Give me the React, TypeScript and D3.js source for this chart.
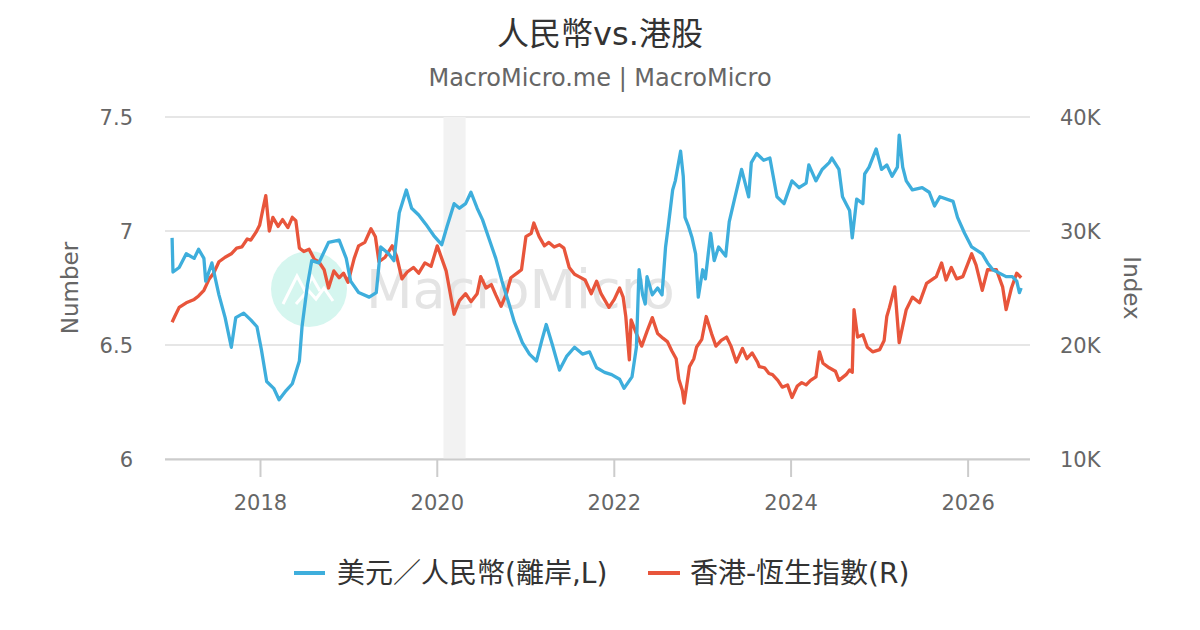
import React from 'react';
import * as d3 from 'd3';

// USD/CNH (offshore), left axis — dates as decimal years
const cnhYears = [
  2017.00, 2017.01, 2017.08, 2017.16, 2017.25, 2017.30, 2017.36, 2017.38, 2017.45, 2017.53,
  2017.60, 2017.67, 2017.72, 2017.81, 2017.89, 2017.96, 2018.01, 2018.07, 2018.15, 2018.21,
  2018.29, 2018.36, 2018.44, 2018.47, 2018.53, 2018.58, 2018.66, 2018.77, 2018.89, 2018.97,
  2019.02, 2019.11, 2019.23, 2019.31, 2019.36, 2019.45, 2019.51, 2019.57, 2019.65, 2019.71,
  2019.79, 2019.87, 2019.96, 2020.05, 2020.11, 2020.19, 2020.25, 2020.32, 2020.38, 2020.45,
  2020.51, 2020.58, 2020.66, 2020.73, 2020.81, 2020.87, 2020.96, 2021.04, 2021.12, 2021.18,
  2021.23, 2021.30, 2021.38, 2021.46, 2021.55, 2021.64, 2021.72, 2021.80, 2021.89, 2021.97,
  2022.06, 2022.11, 2022.20, 2022.25, 2022.28, 2022.32, 2022.35, 2022.37, 2022.43, 2022.49,
  2022.54, 2022.58, 2022.61, 2022.66, 2022.69, 2022.75, 2022.78, 2022.80, 2022.84, 2022.88,
  2022.92, 2022.95, 2023.00, 2023.03, 2023.09, 2023.13, 2023.18, 2023.26, 2023.30, 2023.36,
  2023.44, 2023.52, 2023.55, 2023.61, 2023.69, 2023.76, 2023.84, 2023.92, 2024.01, 2024.09,
  2024.17, 2024.20, 2024.28, 2024.35, 2024.43, 2024.46, 2024.54, 2024.58, 2024.62, 2024.66,
  2024.69, 2024.74, 2024.81, 2024.83, 2024.88, 2024.96, 2025.02, 2025.08, 2025.14, 2025.20,
  2025.22, 2025.26, 2025.30, 2025.37, 2025.48, 2025.56, 2025.62, 2025.68, 2025.83, 2025.88,
  2025.96, 2026.04, 2026.16, 2026.22, 2026.28, 2026.43, 2026.50, 2026.55, 2026.58, 2026.60,
];
const cnhValues = [
  6.97, 6.82, 6.84, 6.90, 6.88, 6.92, 6.88, 6.78, 6.86, 6.72,
  6.62, 6.49, 6.62, 6.64, 6.61, 6.58, 6.48, 6.34, 6.31, 6.26,
  6.30, 6.33, 6.43, 6.58, 6.76, 6.87, 6.86, 6.95, 6.96, 6.88,
  6.78, 6.73, 6.71, 6.73, 6.93, 6.90, 6.87, 7.08, 7.18, 7.10,
  7.07, 7.03, 6.98, 6.94, 7.02, 7.12, 7.10, 7.12, 7.17, 7.10,
  7.05, 6.97, 6.88, 6.78, 6.68, 6.60, 6.51, 6.46, 6.43, 6.52,
  6.59, 6.50, 6.39, 6.45, 6.49, 6.46, 6.47, 6.40, 6.38, 6.37,
  6.35, 6.31, 6.36, 6.49, 6.83, 6.72, 6.68, 6.80, 6.72, 6.75,
  6.72, 6.93, 7.02, 7.18, 7.22, 7.35, 7.24, 7.06, 7.02, 6.97,
  6.90, 6.71, 6.83, 6.79, 6.99, 6.87, 6.93, 6.89, 7.04, 7.14,
  7.27, 7.15, 7.30, 7.34, 7.31, 7.32, 7.15, 7.12, 7.22, 7.19,
  7.21, 7.29, 7.22, 7.27, 7.30, 7.32, 7.27, 7.15, 7.12, 7.09,
  6.97, 7.14, 7.12, 7.25, 7.28, 7.36, 7.27, 7.29, 7.24, 7.28,
  7.42, 7.28, 7.22, 7.18, 7.19, 7.17, 7.11, 7.15, 7.13, 7.06,
  6.99, 6.93, 6.90, 6.86, 6.83, 6.80, 6.80, 6.78, 6.73, 6.75,
];

// Hang Seng Index, right axis
const hsiYears = [
  2017.00, 2017.03, 2017.08, 2017.16, 2017.25, 2017.30, 2017.36, 2017.42, 2017.47, 2017.53,
  2017.60, 2017.67, 2017.73, 2017.79, 2017.85, 2017.89, 2017.95, 2017.99, 2018.03, 2018.06,
  2018.10, 2018.14, 2018.20, 2018.25, 2018.31, 2018.36, 2018.40, 2018.44, 2018.49, 2018.55,
  2018.61, 2018.66, 2018.72, 2018.77, 2018.83, 2018.89, 2018.94, 2018.99, 2019.06, 2019.11,
  2019.18, 2019.25, 2019.30, 2019.34, 2019.41, 2019.49, 2019.54, 2019.60, 2019.66, 2019.73,
  2019.79, 2019.86, 2019.93, 2020.00, 2020.05, 2020.10, 2020.14, 2020.19, 2020.25, 2020.32,
  2020.38, 2020.45, 2020.49, 2020.55, 2020.61, 2020.66, 2020.72, 2020.78, 2020.83, 2020.90,
  2020.95, 2021.00, 2021.06, 2021.09, 2021.15, 2021.21, 2021.26, 2021.32, 2021.38, 2021.43,
  2021.49, 2021.55, 2021.60, 2021.67, 2021.74, 2021.80, 2021.85, 2021.94, 2022.00, 2022.06,
  2022.10, 2022.13, 2022.17, 2022.19, 2022.25, 2022.31, 2022.37, 2022.43, 2022.49, 2022.55,
  2022.60, 2022.65, 2022.70, 2022.73, 2022.77, 2022.79, 2022.82, 2022.85, 2022.90, 2022.93,
  2022.99, 2023.04, 2023.10, 2023.15, 2023.21, 2023.27, 2023.32, 2023.38, 2023.45, 2023.50,
  2023.56, 2023.62, 2023.64, 2023.70, 2023.75, 2023.79, 2023.85, 2023.90, 2023.96, 2024.01,
  2024.07, 2024.12, 2024.17, 2024.22, 2024.28, 2024.32, 2024.36, 2024.43, 2024.50, 2024.54,
  2024.62, 2024.66, 2024.69, 2024.71, 2024.75, 2024.81, 2024.86, 2024.92, 2025.00, 2025.05,
  2025.08, 2025.11, 2025.17, 2025.22, 2025.30, 2025.37, 2025.45, 2025.53, 2025.64, 2025.70,
  2025.75, 2025.81, 2025.87, 2025.94, 2026.04, 2026.09, 2026.16, 2026.22, 2026.32, 2026.39,
  2026.43, 2026.49, 2026.55, 2026.60,
];
const hsiValues = [
  22000, 22500, 23300, 23700, 24000, 24300, 24800, 25800, 26300, 27300,
  27700, 28000, 28500, 28600, 29300, 29200, 29900, 30500, 32000, 33100,
  30000, 31200, 30400, 31000, 30300, 31200, 30900, 28500, 28200, 28400,
  27500, 27300, 26600, 25000, 26500, 25900, 26300, 25500, 27600, 28700,
  29000, 30200, 29500, 27300, 27700, 28700, 27800, 25800, 26400, 26800,
  26300, 27200, 26900, 28700, 27600, 26500, 24800, 22700, 23900, 24500,
  23800, 24500, 26000, 25000, 25300, 24400, 23400, 24500, 25900, 26300,
  26600, 29500, 29800, 30700, 29500, 28700, 29000, 28600, 28800, 28500,
  26800, 26200, 26000, 25700, 24500, 25600, 24500, 23300, 24000, 25000,
  24200, 22500, 18700, 22200, 21000, 19900, 21200, 22400, 21000, 20600,
  20300, 19500, 18800, 17000, 16000, 14900, 16500, 18100, 18800, 19800,
  20500, 22500, 21000, 19900, 20400, 20700, 19900, 18500, 19700, 18800,
  19300, 18500, 18100, 18000, 17500, 17400, 16900, 16300, 16500, 15400,
  16400, 16700, 16500, 16900, 17200, 19400, 18400, 18000, 17700, 16900,
  17400, 17800, 17600, 23100, 20700, 20900, 19800, 19400, 19600, 20400,
  22500, 23300, 25100, 20200, 23100, 24200, 23700, 25400, 26000, 27200,
  25700, 26800, 25800, 26000, 28000, 27000, 24800, 26600, 26600, 25100,
  23100, 25000, 26300, 25900,
];

const leftTicks = [6, 6.5, 7, 7.5];
const leftTickLabels = ['6', '6.5', '7', '7.5'];
const rightTicks = [10000, 20000, 30000, 40000];
const rightTickLabels = ['10K', '20K', '30K', '40K'];
const xTickYears = [2018, 2020, 2022, 2024, 2026];
const recessionBand = [2020.07, 2020.32];

const titleText = '人民幣vs.港股';
const subtitleText = 'MacroMicro.me | MacroMicro';
const seriesNames = ['美元／人民幣(離岸,L)', '香港-恆生指數(R)'];
const seriesColors = ['#3eaedc', '#e8553b'];

const FONT = '"DejaVu Sans", "Noto Sans CJK TC", sans-serif';

function toDate(y: number): Date {
  const yr = Math.floor(y);
  const a = Date.UTC(yr, 0, 1);
  const b = Date.UTC(yr + 1, 0, 1);
  return new Date(a + (y - yr) * (b - a));
}

const W = 1200;
const H = 630;
const L = 165;
const R = 1030;
const T = 117;
const B = 459;

export default function App() {
  const x = d3.scaleTime().domain([toDate(2016.92), toDate(2026.70)]).range([L, R]);
  const yL = d3.scaleLinear().domain([6, 7.5]).range([B, T]);
  const yR = d3.scaleLinear().domain([10000, 40000]).range([B, T]);

  const cnh = cnhYears.map((t, i) => ({ d: toDate(t), v: cnhValues[i] }));
  const hsi = hsiYears.map((t, i) => ({ d: toDate(t), v: hsiValues[i] }));

  const lineL = d3.line<{ d: Date; v: number }>().x(p => x(p.d)).y(p => yL(p.v));
  const lineR = d3.line<{ d: Date; v: number }>().x(p => x(p.d)).y(p => yR(p.v));

  const bx0 = x(toDate(recessionBand[0]));
  const bx1 = x(toDate(recessionBand[1]));

  return (
    <svg width={W} height={H} style={{ position: 'absolute', left: 0, top: 0, background: '#fff' }} fontFamily={FONT}>
      <rect x={0} y={0} width={W} height={H} fill="#ffffff" />
      <text x={600} y={45} textAnchor="middle" fontSize={32} fill="#333333">{titleText}</text>
      <text x={600} y={86} textAnchor="middle" fontSize={24} fill="#666666">{subtitleText}</text>

      {/* gridlines */}
      {leftTicks.map((t, i) => (
        <line key={'g' + i} x1={L} x2={R} y1={yL(t)} y2={yL(t)} stroke="#e6e6e6" strokeWidth={2} />
      ))}

      {/* recession band */}
      <rect x={bx0} y={T} width={bx1 - bx0} height={B - T} fill="#f2f2f2" />

      {/* watermark */}
      <g>
        <circle cx={309} cy={289} r={38} fill="#d5f6ef" />
        <path d="M283,304 L297,276 L305,291 L312,277 L320,291" fill="none" stroke="#ffffff" strokeWidth={3} />
        <path d="M296,304 L308,290 L316,299 L324,288 L333,301" fill="none" stroke="#ffffff" strokeWidth={3} />
        <text x={366} y={308} fontSize={54} fill="#e4e4e4">MacroMicro</text>
      </g>

      {/* series */}
      <path d={lineR(hsi) || ''} fill="none" stroke={seriesColors[1]} strokeWidth={3.3} strokeLinejoin="round" />
      <path d={lineL(cnh) || ''} fill="none" stroke={seriesColors[0]} strokeWidth={3.3} strokeLinejoin="round" />

      {/* x axis */}
      <line x1={L} x2={R} y1={B + 0.5} y2={B + 0.5} stroke="#cccccc" strokeWidth={2} />
      {xTickYears.map(yr => {
        const px = x(toDate(yr));
        return (
          <g key={'x' + yr}>
            <line x1={px} x2={px} y1={B} y2={B + 18} stroke="#cccccc" strokeWidth={2} />
            <text x={px} y={510} textAnchor="middle" fontSize={21} fill="#666666">{String(yr)}</text>
          </g>
        );
      })}

      {/* left axis labels */}
      {leftTicks.map((t, i) => (
        <text key={'l' + i} x={133} y={yL(t) + 8} textAnchor="end" fontSize={21} fill="#666666">{leftTickLabels[i]}</text>
      ))}
      {/* right axis labels */}
      {rightTicks.map((t, i) => (
        <text key={'r' + i} x={1060} y={yR(t) + 8} textAnchor="start" fontSize={21} fill="#666666">{rightTickLabels[i]}</text>
      ))}

      {/* axis titles */}
      <text transform={`translate(78, ${(T + B) / 2}) rotate(-90)`} textAnchor="middle" fontSize={23} fill="#666666">Number</text>
      <text transform={`translate(1124, ${(T + B) / 2}) rotate(90)`} textAnchor="middle" fontSize={23} fill="#666666">Index</text>

      {/* legend */}
      <line x1={294} x2={325} y1={573} y2={573} stroke={seriesColors[0]} strokeWidth={4} />
      <text x={337} y={583} fontSize={28} fill="#333333">{seriesNames[0]}</text>
      <line x1={648} x2={680} y1={573} y2={573} stroke={seriesColors[1]} strokeWidth={4} />
      <text x={690} y={583} fontSize={28} fill="#333333">{seriesNames[1]}</text>
    </svg>
  );
}
